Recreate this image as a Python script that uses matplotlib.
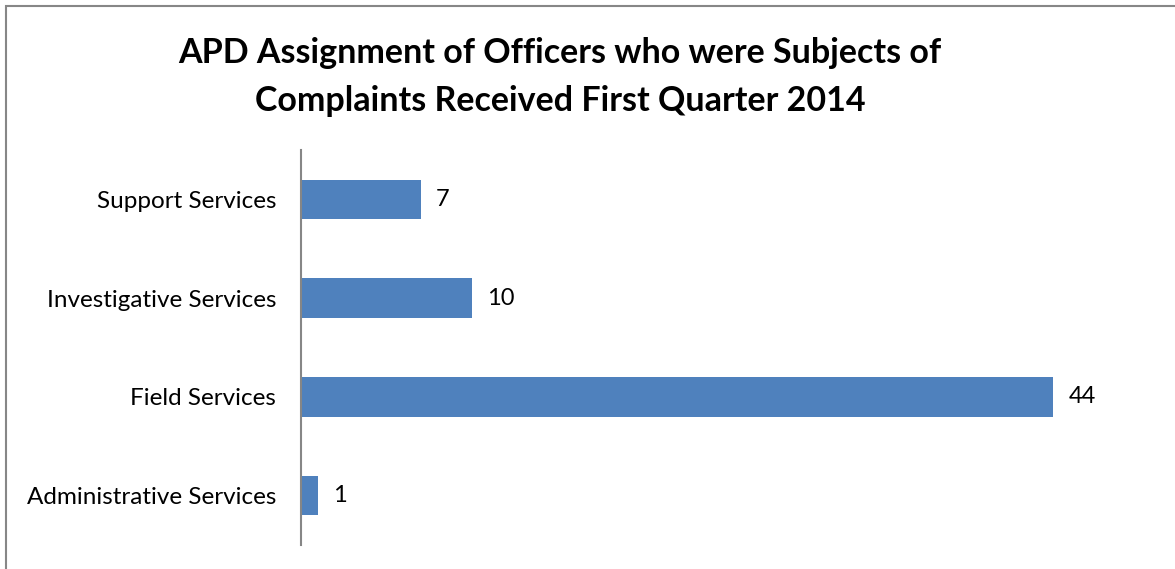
import matplotlib.pyplot as plt
from matplotlib.patches import Rectangle

# ── Data ──────────────────────────────────────────────────────────────────────
categories = ["Administrative Services", "Field Services",
              "Investigative Services", "Support Services"]
values = [1, 44, 10, 7]

title = ("APD Assignment of Officers who were Subjects of\n"
         "Complaints Received First Quarter 2014")

plt.rcParams['font.family'] = ['Lato', 'DejaVu Sans']

fig = plt.figure(figsize=(11.75, 5.69), dpi=100)

# chart border (left and top visible)
fig.patches.append(Rectangle((6 / 1175, -0.1), 1.2, (569 - 6) / 569 + 0.1,
                             transform=fig.transFigure, fill=False,
                             edgecolor='#878787', linewidth=1.5))

ax = fig.add_axes([301 / 1175, 24 / 569, 855 / 1175, 395 / 569])
y = range(len(categories))
ax.barh(y, values, height=0.4, color='#4F81BD')
ax.set_xlim(0, 50)
ax.set_ylim(-0.5, len(categories) - 0.5)
ax.set_yticks(list(y))
ax.set_yticklabels(categories, fontsize=17.5)
ax.tick_params(axis='y', length=0, pad=18)
ax.set_xticks([])
for s in ['top', 'right', 'bottom']:
    ax.spines[s].set_visible(False)
ax.spines['left'].set_color('#868686')
ax.spines['left'].set_linewidth(1.5)

for yi, v in zip(y, values):
    ax.text(v + 0.9, yi, str(v), va='center', ha='left', fontsize=17)

fig.text(560 / 1175, 1 - 77 / 569, title, ha='center', va='center',
         fontsize=24.5, fontweight='bold', linespacing=1.6)

fig.savefig("out.png", dpi=100)
